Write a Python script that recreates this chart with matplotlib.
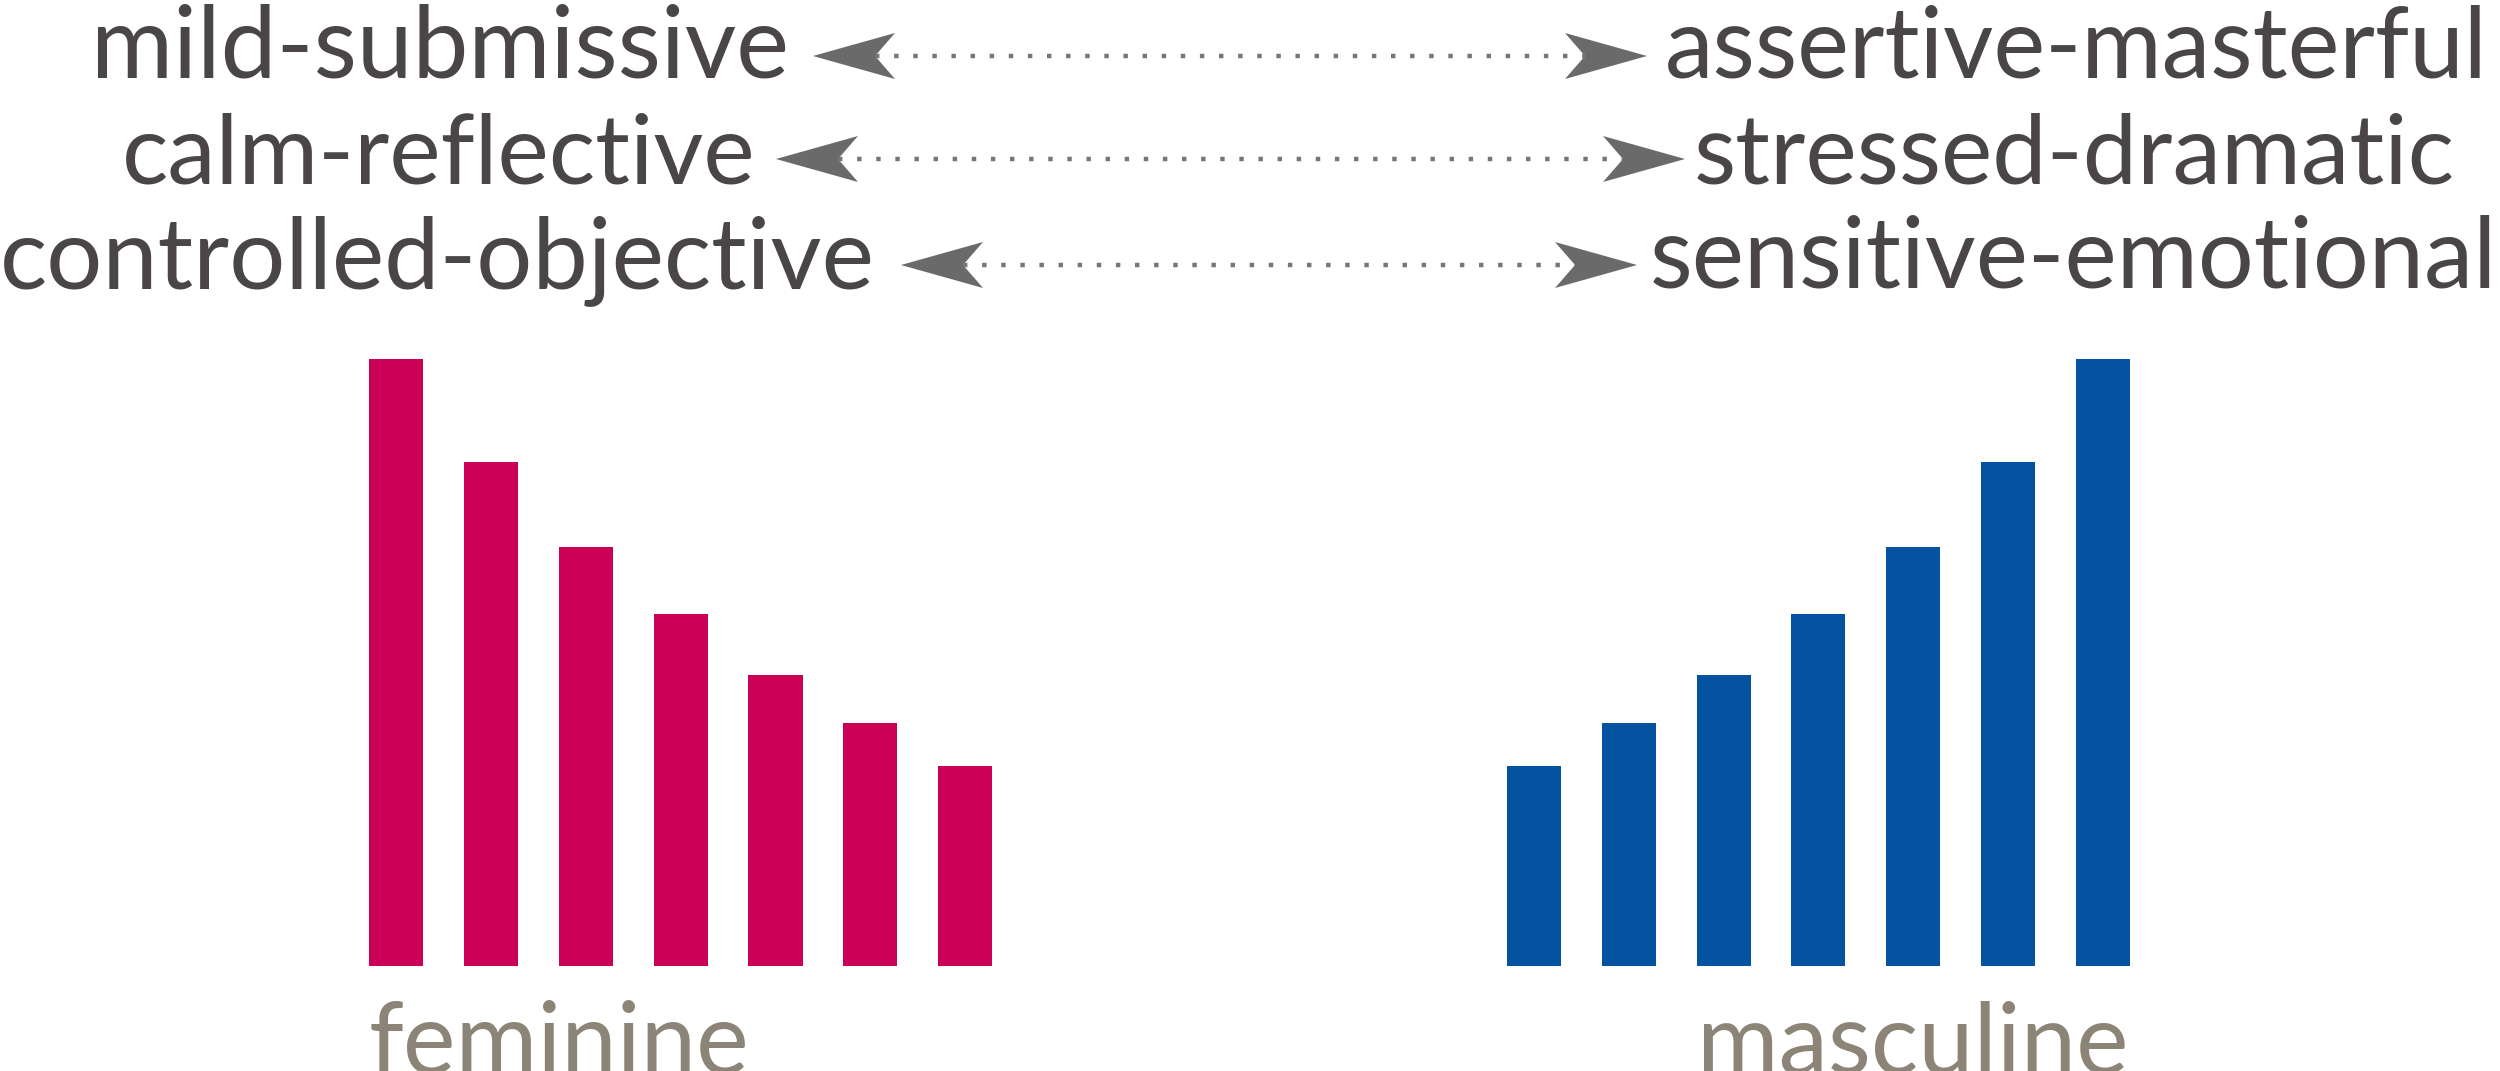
import matplotlib
matplotlib.use("Agg")
import matplotlib.pyplot as plt
from matplotlib.patches import Polygon

# data
feminine = [100, 83, 69, 58, 48, 40, 33]
masculine = [33, 40, 48, 58, 69, 83, 100]
left_labels = ['mild-submissive', 'calm-reflective', 'controlled-objective']
right_labels = ['assertive-masterful', 'stressed-dramatic', 'sensitive-emotional']
group_labels = ['feminine', 'masculine']

W, H = 2500, 1071
pink = '#cb0057'
blue = '#0453a1'
text_col = '#4a4546'
label_col = '#8c8577'
arrow_col = '#6a6a6a'
font = dict(family=['Lato', 'DejaVu Sans'])

fig = plt.figure(figsize=(W / 100, H / 100), dpi=100)
fig.patch.set_facecolor('white')

# bars
ax = fig.add_axes([0, (H - 966) / H, 1, 607 / H])
ax.set_xlim(-4.18, 22.19)
ax.set_ylim(0, 100)
ax.axis('off')
ax.bar(range(len(feminine)), feminine, width=0.57, color=pink)
ax.bar(range(12, 12 + len(masculine)), masculine, width=0.57, color=blue)

# overlay in pixel coords for texts and arrows
ov = fig.add_axes([0, 0, 1, 1])
ov.set_xlim(0, W)
ov.set_ylim(H, 0)
ov.axis('off')
ov.patch.set_alpha(0)

rows_y = [56, 159, 265]
baselines = [78, 183, 288]
left_end = [789, 755, 875]
left_start = [90, 121, 0]
right_start = [1665, 1694, 1650]
right_end = [2488, 2455, 2498]
left_tip = [813, 776, 901]
right_tip = [1647, 1685, 1637]


def arrowhead(tip, y, direction, length=82, half=23, notch=20):
    xb = tip - direction * length
    xn = tip - direction * (length - notch)
    pts = [(tip, y), (xb, y - half), (xn, y), (xb, y + half)]
    ov.add_patch(Polygon(pts, closed=True, color=arrow_col, lw=0))
    return xn


def fit(t, target, base=70):
    w = t.get_window_extent(renderer).width
    t.set_fontsize(base * target / w)


renderer = fig.canvas.get_renderer()
for i in range(3):
    tl = ov.text(left_end[i], baselines[i], left_labels[i], ha='right', va='baseline',
                 fontsize=70, color=text_col, **font)
    tr = ov.text(right_start[i], baselines[i], right_labels[i], ha='left', va='baseline',
                 fontsize=70, color=text_col, **font)
    fit(tl, left_end[i] - left_start[i])
    fit(tr, right_end[i] - right_start[i])
    nl = arrowhead(left_tip[i], rows_y[i], -1)
    nr = arrowhead(right_tip[i], rows_y[i], 1)
    ov.plot([nl, nr], [rows_y[i], rows_y[i]], color='#777777', lw=3.2,
            linestyle=(0, (1, 3.3)), solid_capstyle='butt', dash_capstyle='butt')

f1 = ov.text(369, 1074, group_labels[0], ha='left', va='baseline', fontsize=75,
             color=label_col, **font)
f2 = ov.text(2129, 1074, group_labels[1], ha='right', va='baseline', fontsize=75,
             color=label_col, **font)
fit(f1, 381, 75)
fit(f2, 431, 75)

fig.savefig('out.png', dpi=100, facecolor='white')
